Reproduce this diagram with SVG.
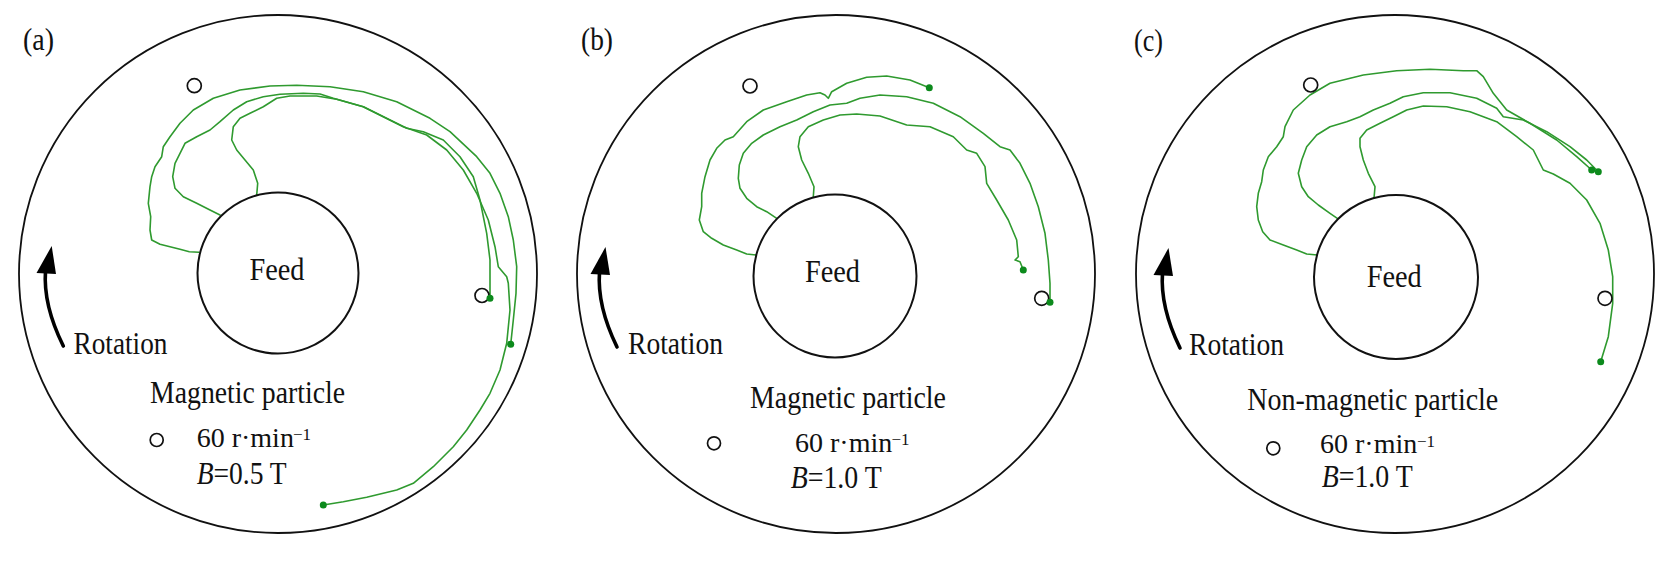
<svg xmlns="http://www.w3.org/2000/svg" width="1671" height="564" viewBox="0 0 1671 564">
<style>
.bg{fill:#ffffff}
.outer{fill:none;stroke:#111;stroke-width:1.8}
.inner{fill:#fff;stroke:#111;stroke-width:2}
.ring{fill:none;stroke:#111;stroke-width:1.7}
.traj{fill:none;stroke:#2f9a2f;stroke-width:1.6;stroke-linejoin:round;stroke-linecap:round}
.dot{fill:#0c8a1c}
.arrow{fill:none;stroke:#000;stroke-width:3.6;stroke-linecap:round}
.head{fill:#000}
.t{font-family:"Liberation Serif","Times New Roman",serif;font-size:31px;fill:#111}
.t2{font-family:"Liberation Serif","Times New Roman",serif;font-size:28px;fill:#111}
.sup{font-size:17px}
.it{font-style:italic}
</style>
<rect class="bg" x="0" y="0" width="1671" height="564"/>

<!-- Panel (a) -->
<g id="panel-a">
  <text class="t" x="23" y="50" textLength="31" lengthAdjust="spacingAndGlyphs">(a)</text>
  <circle class="outer" cx="278" cy="274" r="259"/>
  <g id="a-connectors">
    <path class="traj" d="M199,252.3 L189.3,251.7 L180,249.3 L170,246.7 L160,244.3 L151.7,240 L150,230 L150.7,216.7 L148.3,203.3 L150,186.7 L151.7,176.7 L155,166.7 L161.7,156.7 L163.3,146.7 L170,136.7 L180,123.3 L193.3,110 L213.3,98.3 L240,90 L270,86 L296.7,85.3 L330,86.7 L363.3,91.7 L396.7,101.7 L430,118.3 L450,131.7 L476.7,156.7 L490,173.3 L500,193.3 L508.3,216.7 L513.3,240 L516.7,266.7 L516,293.3 L513.3,320 L510.7,344.3"/>
    <path class="traj" d="M220,215 L210,210 L196.7,203.3 L183.3,196.7 L175,188.3 L172.7,176.7 L175,163.3 L180,153.3 L185,143.3 L196.7,136.7 L210,130 L220,121.7 L233.3,110 L246.7,101.7 L263.3,96.7 L280,94.3 L303.3,93.3 L320,94 L333.3,98.3 L363.3,106.7 L390,120 L406.7,128.3 L423.3,131.7 L443.3,140 L460,156.7 L473.3,176.7 L480,200 L486.7,233.3 L490,260 L490,298.3"/>
    <path class="traj" d="M256.7,195 L257.7,183.3 L253.3,170 L245,160 L236.7,150 L231.7,140 L233.3,126.7 L240,118.3 L250,113.3 L263.3,106.7 L276.7,98.3 L290,96 L316.7,96 L336.7,99.3 L363.3,106.7 L383.3,116.7 L403.3,126.7 L426.7,135 L446.7,150 L463.3,170 L476.7,193.3 L488.3,220 L495,246.7 L498.3,266.7 L506.7,276.7 L508.3,283.3 L510,310 L506.7,343.3 L500,370 L490,393.3 L480,410 L466.7,430 L453.3,446.7 L433.3,466.7 L413.3,483.3 L396.7,490 L366.7,497.3 L343.3,501.7 L323.3,505"/>
  </g>
  <circle class="inner" cx="278" cy="273" r="80.5"/>
  <text class="t" x="249.5" y="279.5" textLength="55" lengthAdjust="spacingAndGlyphs">Feed</text>
  <circle class="ring" cx="194.3" cy="85.7" r="7"/>
  <circle class="ring" cx="482" cy="295.5" r="7"/>
  <circle class="dot" cx="490" cy="298.3" r="3.5"/>
  <circle class="dot" cx="510.7" cy="344.3" r="3.5"/>
  <circle class="dot" cx="323.3" cy="505" r="3.5"/>
  <path class="arrow" d="M63.3,346 Q43,305 45.5,271"/>
  <polygon class="head" points="36.5,273 56,274 51.7,246"/>
  <text class="t" x="73.5" y="354" textLength="94" lengthAdjust="spacingAndGlyphs">Rotation</text>
  <text class="t" x="150" y="403.3" textLength="195" lengthAdjust="spacingAndGlyphs">Magnetic particle</text>
  <circle class="ring" cx="156.7" cy="440" r="6.5"/>
  <text class="t2" x="196.7" y="446.7">60 r·min<tspan class="sup" x="293" y="440">−1</tspan></text>
  <text class="t" x="196.7" y="483.5" textLength="90" lengthAdjust="spacingAndGlyphs"><tspan class="it">B</tspan>=0.5 T</text>
</g>

<!-- Panel (b) -->
<g id="panel-b">
  <text class="t" x="581" y="50" textLength="32" lengthAdjust="spacingAndGlyphs">(b)</text>
  <circle class="outer" cx="836" cy="274" r="259"/>
  <g id="b-connectors">
    <path class="traj" d="M756,255 L746.7,254 L736.7,250 L723.3,245 L711.7,238.3 L703.3,231.7 L699.3,220 L701.7,206.7 L701.7,193.3 L705,176.7 L710,160 L716.7,148.3 L725,140 L733.3,136.7 L746.7,121.7 L763.3,110 L786.7,101.7 L806.7,95 L820,92.7 L825,95 L828.3,98.3 L831.7,91.7 L846.7,83.3 L866.7,77.3 L886.7,76 L910,80 L929.3,87.7"/>
    <path class="traj" d="M776.7,218.3 L766.7,211.7 L756.7,206.7 L746.7,198.3 L740,188.3 L738.3,178.3 L739.3,165 L743.3,153.3 L751.7,143.3 L763.3,135 L780,126.7 L796.7,120 L813.3,111.7 L830,105 L846.7,103.3 L860,98.3 L880,95 L906.7,96.7 L933.3,103.3 L960,116.7 L983.3,133.3 L1000,146.7 L1010,150 L1020,163.3 L1030,183.3 L1038.3,206.7 L1045,233.3 L1048.3,260 L1050,283.3 L1050,302.3"/>
    <path class="traj" d="M813.3,196.7 L814,186.7 L808.3,173.3 L801.7,160 L798.3,146.7 L800,136.7 L808.3,126.7 L823.3,120 L840,115 L856.7,114 L880,116 L906.7,125 L930,126.7 L953.3,136.7 L966.7,150 L976.7,153.3 L985,166.7 L986.7,183.3 L996.7,200 L1008.3,220 L1016.7,240 L1018.3,256.7 L1015,260 L1020,261.7 L1023.3,270"/>
  </g>
  <circle class="inner" cx="835" cy="276" r="81.5"/>
  <text class="t" x="805" y="282.3" textLength="55" lengthAdjust="spacingAndGlyphs">Feed</text>
  <circle class="ring" cx="750" cy="86" r="7"/>
  <circle class="ring" cx="1041.7" cy="298.3" r="7"/>
  <circle class="dot" cx="929.3" cy="87.7" r="3.5"/>
  <circle class="dot" cx="1023.3" cy="270" r="3.5"/>
  <circle class="dot" cx="1050" cy="302.3" r="3.5"/>
  <path class="arrow" d="M617,347 Q597,306 599.5,272"/>
  <polygon class="head" points="590.5,274 610,275 605.5,247"/>
  <text class="t" x="628" y="354" textLength="95" lengthAdjust="spacingAndGlyphs">Rotation</text>
  <text class="t" x="750" y="408.3" textLength="196" lengthAdjust="spacingAndGlyphs">Magnetic particle</text>
  <circle class="ring" cx="714" cy="443.3" r="6.5"/>
  <text class="t2" x="795" y="451.7">60 r·min<tspan class="sup" x="891.5" y="445">−1</tspan></text>
  <text class="t" x="790.7" y="488.3" textLength="91" lengthAdjust="spacingAndGlyphs"><tspan class="it">B</tspan>=1.0 T</text>
</g>

<!-- Panel (c) -->
<g id="panel-c">
  <text class="t" x="1134" y="51" textLength="29" lengthAdjust="spacingAndGlyphs">(c)</text>
  <circle class="outer" cx="1395" cy="274" r="259"/>
  <g id="c-connectors">
    <path class="traj" d="M1317.3,255 L1306.7,254 L1296.7,250 L1283.3,245 L1270,240 L1262.7,231.7 L1258.3,220 L1256.7,206.7 L1258.3,193.3 L1261.7,181.7 L1263.3,170 L1268.3,156.7 L1276.7,146.7 L1283.3,136.7 L1285,126.7 L1293.3,110 L1310,95 L1330,83.3 L1363.3,75 L1396.7,70.7 L1430,69.3 L1463.3,70.7 L1476.7,70.7 L1483.3,76.7 L1493.3,93.3 L1506.7,110 L1530,123.3 L1556.7,140 L1576.7,156.7 L1591.7,170"/>
    <path class="traj" d="M1337.3,218.3 L1330,213.3 L1318.3,205 L1308.3,196.7 L1301.7,186.7 L1298.3,173.3 L1301.7,160 L1306.7,146.7 L1316.7,135 L1330,126.7 L1346.7,121.7 L1360,116.7 L1373.3,110 L1390,103.3 L1403.3,96.7 L1423.3,92.7 L1450,92.7 L1476.7,98.3 L1496.7,108.3 L1503.3,116.7 L1523.3,120 L1546.7,131.7 L1570,146.7 L1586.7,160 L1598.3,171.7"/>
    <path class="traj" d="M1374,198.3 L1375,186.7 L1368.3,173.3 L1363.3,160 L1360,146.7 L1360,138.3 L1366.7,130 L1380,123.3 L1393.3,116.7 L1406.7,110 L1423.3,106 L1446.7,106.7 L1470,111.7 L1496.7,121.7 L1516.7,136.7 L1533.3,150 L1543.3,170 L1553.3,174 L1570,183.3 L1586.7,200 L1600,223.3 L1608.3,250 L1612.7,276.7 L1612.7,303.3 L1608.3,336.7 L1600.7,361.7"/>
  </g>
  <circle class="inner" cx="1396" cy="277" r="82"/>
  <text class="t" x="1366.7" y="287.3" textLength="55" lengthAdjust="spacingAndGlyphs">Feed</text>
  <circle class="ring" cx="1310.7" cy="85" r="7"/>
  <circle class="ring" cx="1605" cy="298.3" r="7"/>
  <circle class="dot" cx="1591.7" cy="170" r="3.5"/>
  <circle class="dot" cx="1598.3" cy="171.7" r="3.5"/>
  <circle class="dot" cx="1600.7" cy="361.7" r="3.5"/>
  <path class="arrow" d="M1180,348 Q1160,307 1162.5,273"/>
  <polygon class="head" points="1153.5,275 1173,276 1168.5,248"/>
  <text class="t" x="1189" y="355" textLength="95" lengthAdjust="spacingAndGlyphs">Rotation</text>
  <text class="t" x="1247.3" y="410" textLength="251" lengthAdjust="spacingAndGlyphs">Non-magnetic particle</text>
  <circle class="ring" cx="1273.3" cy="448.3" r="6.5"/>
  <text class="t2" x="1320" y="453.3">60 r·min<tspan class="sup" x="1417" y="446.6">−1</tspan></text>
  <text class="t" x="1321.7" y="486.7" textLength="91" lengthAdjust="spacingAndGlyphs"><tspan class="it">B</tspan>=1.0 T</text>
</g>
</svg>
